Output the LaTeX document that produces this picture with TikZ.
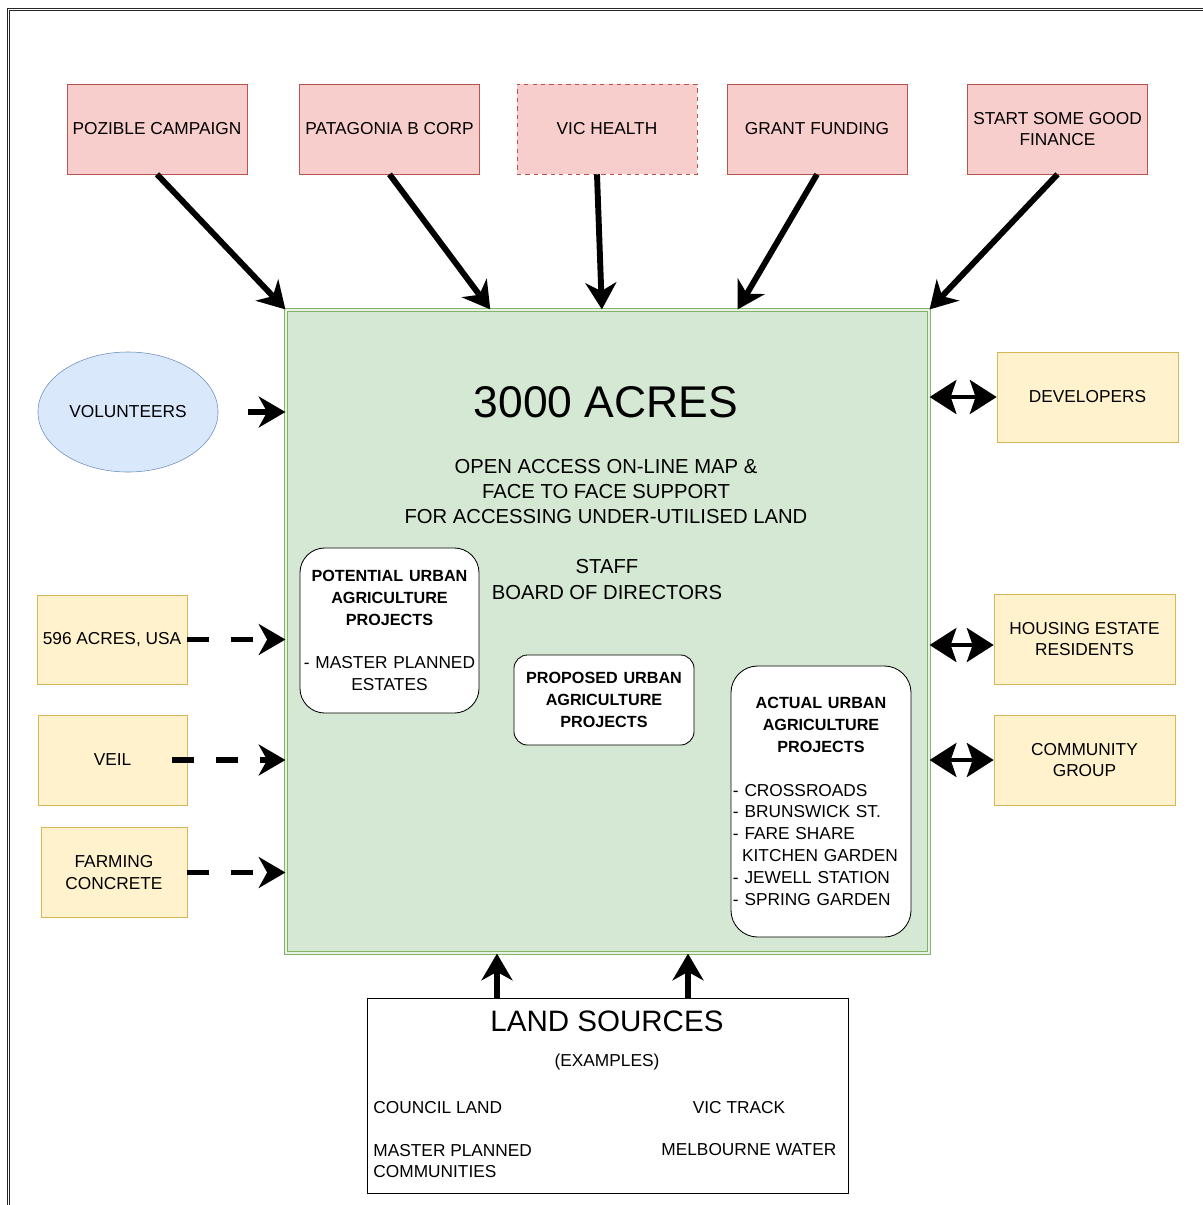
\documentclass[tikz,border=0pt]{standalone}
\usepackage{fontspec}
\setmainfont{Liberation Sans}
\usetikzlibrary{arrows.meta,shapes.geometric,calc}
\newcommand\boxfont{\fontsize{12.3pt}{15.5pt}\selectfont}
\newcommand\headfont{\fontsize{11.5pt}{15.5pt}\selectfont\bfseries}
\newcommand\infofont{\fontsize{14.4pt}{18pt}\selectfont}
\definecolor{node_red}{RGB}{248,206,204}
\definecolor{edge_red}{RGB}{184,84,80}
\definecolor{node_yell}{RGB}{255,242,204}
\definecolor{edge_yell}{RGB}{214,182,86}
\definecolor{node_blue}{RGB}{218,232,252}
\definecolor{edge_blue}{RGB}{108,142,191}
\definecolor{node_green}{RGB}{213,232,212}
\definecolor{edge_green}{RGB}{130,179,102}

\begin{document}
\begin{tikzpicture}[x=0.025cm,y=-0.025cm,semithick]
    \tikzstyle{txt}=[inner sep=0pt,font=\boxfont,text=black]
    \tikzstyle{box}=[draw,rectangle,minimum width=4.5cm,minimum height=2.25cm,inner sep=1pt,align=center,font=\boxfont,text=black,thin]
    \tikzstyle{funder}=[style=box,fill=node_red,draw=edge_red]
    \tikzstyle{partner}=[style=box,fill=node_yell,draw=edge_yell]
    \tikzstyle{project}=[draw=black,fill=white,rectangle,inner sep=1pt,font=\boxfont,text=black]
    \tikzstyle{flow}=[line width=4.2pt,-{Stealth[length=19pt,width=22pt,inset=6pt]}]
    \tikzstyle{dashflow}=[style=flow,dash pattern=on 15.6pt off 15.6pt]
    \tikzstyle{twoway}=[line width=3.5pt,{Stealth[length=19pt,width=24pt,inset=4pt]}-{Stealth[length=19pt,width=24pt,inset=4pt]}]

    \useasboundingbox (0,0) rectangle (1203,1205);
    \draw[double,draw=black!85,line width=0.7pt,double distance=1.2pt] (8.5,1205) -- (8.5,9.5) -- (1203,9.5);

    % funding
    \node[funder]        (poz)   at (157,129)    {POZIBLE CAMPAIGN};
    \node[funder]        (pata)  at (389.5,129)  {PATAGONIA B CORP};
    \node[funder,dashed] (vic)   at (607,129)    {VIC HEALTH};
    \node[funder]        (grant) at (817,129)    {GRANT FUNDING};
    \node[funder]        (ssg)   at (1057.5,129) {START SOME GOOD\\FINANCE};

    % organisation
    \node[draw=edge_green,fill=node_green,double=node_green!55!white,double distance=1.4pt,line width=0.7pt,
          minimum width=16.075cm,minimum height=16.075cm] (acres) at (607.5,631.5) {};
    \node[txt] (title)   at (606,402)   {\fontsize{31.6pt}{36pt}\selectfont 3000 ACRES};
    \node[txt,align=center,font=\infofont] (mission) at (606,491.5) {OPEN ACCESS ON-LINE MAP \&\\FACE TO FACE SUPPORT\\FOR ACCESSING UNDER-UTILISED LAND};
    \node[txt,align=center,font=\infofont] (staff)   at (607,579.5) {STAFF\\BOARD OF DIRECTORS};

    \node[project,rounded corners=0.62cm,minimum width=4.475cm,minimum height=4.125cm,text width=4.4cm,align=center]
          (potential) at (389.5,630.5) {{\headfont POTENTIAL URBAN\\AGRICULTURE\\PROJECTS}\\[15.5pt]- MASTER PLANNED\\ESTATES};
    \node[project,rounded corners=0.34cm,minimum width=4.5cm,minimum height=2.25cm,text width=4.3cm,align=center]
          (proposed) at (604,700) {{\headfont PROPOSED URBAN\\AGRICULTURE\\PROJECTS}};
    \node[project,rounded corners=0.67cm,minimum width=4.5cm,minimum height=6.775cm,text width=4.4cm,align=left]
          (actual) at (821,801.5) {{\centering\headfont ACTUAL URBAN\\AGRICULTURE\\PROJECTS\par}\vspace{15.5pt}
           - CROSSROADS\\- BRUNSWICK ST.\\- FARE SHARE\\\hspace*{6.5pt}KITCHEN GARDEN\\- JEWELL STATION\\- SPRING GARDEN};

    % people and partners
    \node[ellipse,draw=edge_blue,fill=node_blue,thin,minimum width=4.5cm,minimum height=3cm,font=\boxfont] (vol) at (128,412) {VOLUNTEERS};
    \node[partner,minimum width=3.75cm,minimum height=2.225cm]  (usa)     at (112,639.5)  {596 ACRES, USA};
    \node[partner,minimum width=3.725cm]                         (veil)    at (112.5,760)  {VEIL};
    \node[partner,minimum width=3.65cm]                          (farming) at (114,872.5)  {FARMING\\CONCRETE};
    \node[partner,minimum width=4.525cm]                         (dev)     at (1087.5,397) {DEVELOPERS};
    \node[partner,minimum width=4.525cm]                         (housing) at (1084.5,639) {HOUSING ESTATE\\RESIDENTS};
    \node[partner,minimum width=4.525cm]                         (group)   at (1084.5,760) {COMMUNITY\\GROUP};

    % land
    \node[project,thin,minimum width=12.025cm,minimum height=4.875cm] (land) at (607.5,1095.5) {};
    \node[txt] (landtitle) at (607,1021) {\fontsize{21pt}{24pt}\selectfont LAND SOURCES};
    \node[txt] (examples)  at (607,1062) {(EXAMPLES)};
    \node[txt,anchor=west] (council) at (373,1108) {COUNCIL LAND};
    \node[txt]             (track)   at (739,1108) {VIC TRACK};
    \node[txt,anchor=west,align=left] (master) at (373,1161) {MASTER PLANNED\\COMMUNITIES};
    \node[txt,anchor=west] (water)   at (661,1150) {MELBOURNE WATER};

    \path
     (poz.south) edge[flow] (acres.north west)
     (pata.south) edge[flow] (acres.110.5)
     ([xshift=-0.25cm]vic.south) edge[flow] (acres.91.3)
     (grant.south) edge[flow] (acres.68.7)
     (ssg.south) edge[flow] (acres.north east)
     (vol.east) edge[flow,shorten <=0.75cm] (vol.east -| acres.west)
     (usa.east) edge[dashflow] (usa.east -| acres.west)
     (veil.east) edge[dashflow,shorten <=-0.375cm] (veil.east -| acres.west)
     (farming.east) edge[dashflow] (farming.east -| acres.west)
     (acres.east |- dev.west) edge[twoway] (dev.west)
     ([yshift=-0.15cm]acres.east |- housing.west) edge[twoway] ([yshift=-0.15cm]housing.west)
     (acres.east |- group.west) edge[twoway] (group.west)
     ([xshift=-2.7625cm]land.north) edge[flow] ([xshift=-2.7625cm]acres.south)
     ([xshift=2.0125cm]land.north) edge[flow] ([xshift=2.0125cm]acres.south);
\end{tikzpicture}
\end{document}
